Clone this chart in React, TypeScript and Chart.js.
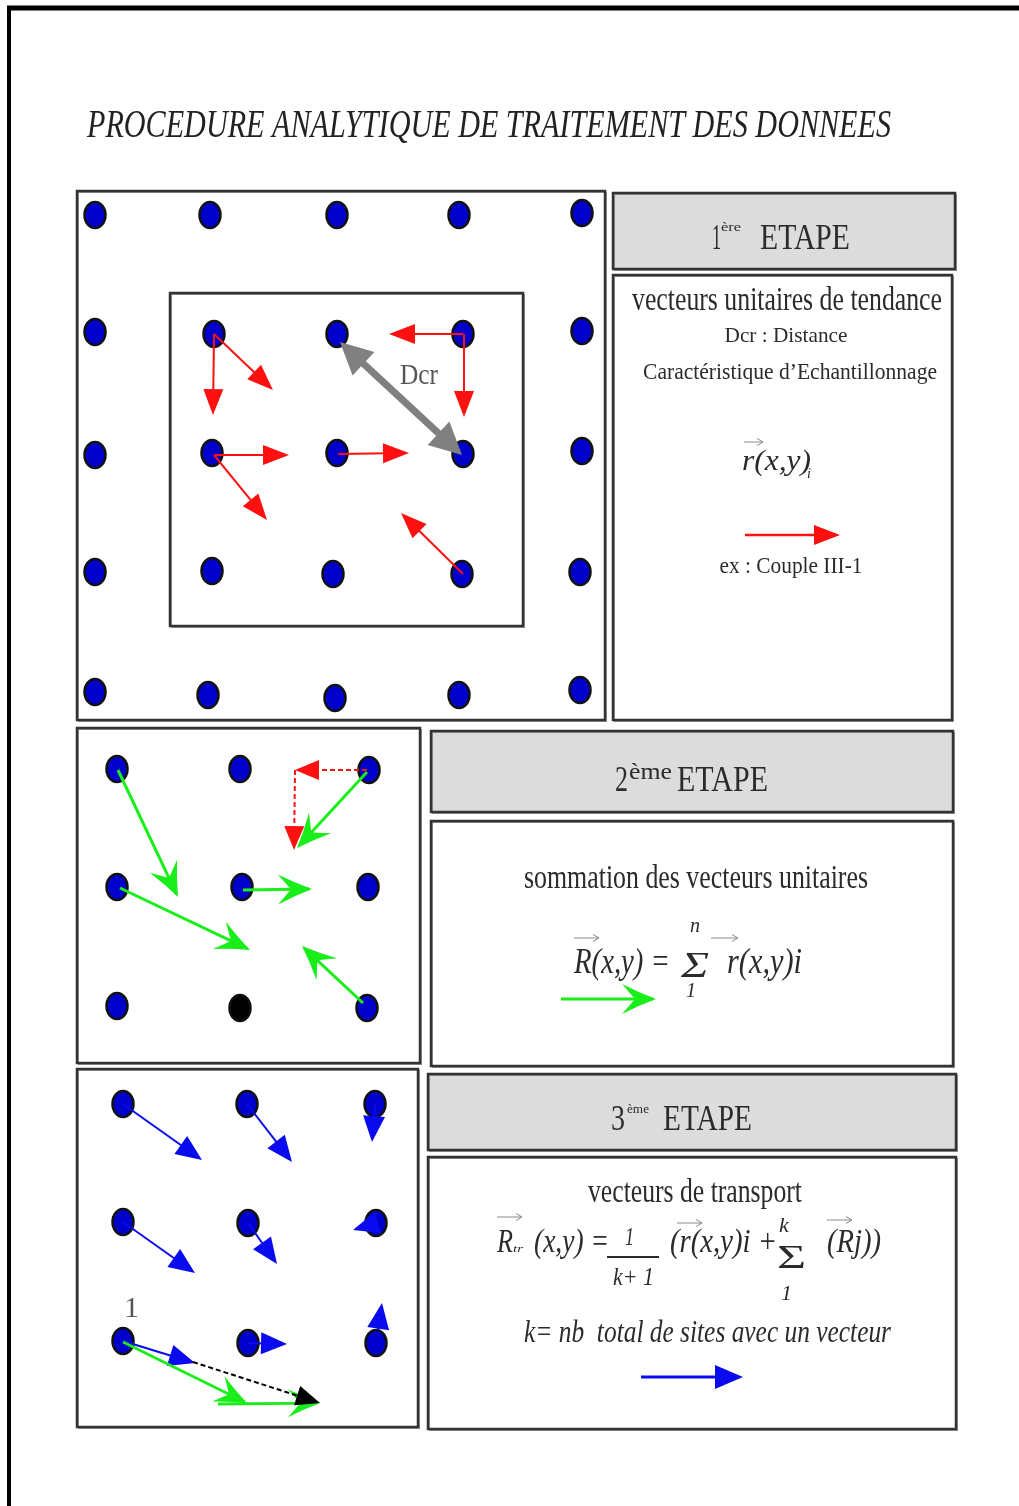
import React, { useEffect, useRef } from "react";
import { Chart, registerables } from "chart.js";

Chart.register(...registerables);

// ---- Data (diagram coordinates, value space 0..1019 x 0..1506) ----
const panel1Dots = [
  [95, 215], [210, 215], [337, 215], [459, 215], [582, 213],
  [95, 332], [214, 334], [337, 334], [463, 334], [582, 331],
  [95, 455], [212, 453], [337, 453], [463, 454], [582, 451],
  [95, 572], [212, 571], [333, 574], [462, 574], [580, 572],
  [95, 692], [208, 695], [335, 698], [459, 695], [580, 690],
];
const panel2Dots = [
  [117, 769], [240, 769], [369, 770],
  [117, 887], [242, 887], [368, 887],
  [117, 1006], [367, 1008],
];
const panel2BlackDots = [[240, 1008]];
const panel3Dots = [
  [123, 1104], [247, 1104], [375, 1104],
  [123, 1222], [248, 1223], [376, 1223],
  [123, 1341], [248, 1343], [376, 1343],
];

const redVectors = [
  [214, 334, 213, 415], [214, 334, 273, 390], [463, 334, 389, 334], [464, 334, 464, 417],
  [214, 455, 289, 455], [214, 455, 267, 520], [338, 454, 409, 453], [463, 574, 401, 513],
];
const dcrVector = [[340, 342, 462, 455]];
const redLegend = [[745, 535, 840, 535]];

const greenVectors2 = [
  [118, 770, 178, 897], [120, 888, 250, 950], [243, 890, 312, 889],
  [363, 1003, 302, 946], [367, 772, 297, 848],
];
const redDashed2 = [[367, 770, 295, 770], [295, 770, 294, 850]];
const greenLegend = [[561, 999, 656, 999]];

const blueVectors3 = [
  [123, 1104, 202, 1160], [247, 1104, 292, 1162], [375, 1104, 372, 1142],
  [123, 1222, 195, 1273], [248, 1223, 277, 1264], [376, 1223, 353, 1230],
  [123, 1341, 195, 1363], [248, 1343, 287, 1344], [378, 1330, 382, 1303],
];
const greenVectors3 = [[123, 1342, 247, 1403], [218, 1404, 320, 1403]];
const blackDashed3 = [[193, 1362, 320, 1403]];
const blueLegend = [[641, 1377, 743, 1377]];

const SERIF = '"Liberation Serif", "Times New Roman", serif';

function makeDot(fill: string) {
  const c = document.createElement("canvas");
  c.width = 26;
  c.height = 30;
  const g = c.getContext("2d")!;
  g.beginPath();
  g.ellipse(13, 15, 10.5, 13, 0, 0, Math.PI * 2);
  g.fillStyle = fill;
  g.fill();
  g.lineWidth = 2.5;
  g.strokeStyle = "#111";
  g.stroke();
  return c;
}

export default function App() {
  const ref = useRef<HTMLCanvasElement>(null);
  useEffect(() => {
    const canvas = ref.current!;
    const blueDot = makeDot("#0000cc");
    const blackDot = makeDot("#000000");

    const diagram = {
      id: "diagram",
      beforeDatasetsDraw(chart: any) {
        const ctx = chart.ctx as CanvasRenderingContext2D;
        const X = (v: number) => chart.scales.x.getPixelForValue(v);
        const Y = (v: number) => chart.scales.y.getPixelForValue(v);
        ctx.save();
        ctx.fillStyle = "#fff";
        ctx.fillRect(0, 0, chart.width, chart.height);
        // outer frame
        ctx.strokeStyle = "#000";
        ctx.lineWidth = 5;
        ctx.beginPath();
        ctx.moveTo(X(7), Y(8));
        ctx.lineTo(X(1019), Y(8));
        ctx.stroke();
        ctx.lineWidth = 4;
        ctx.beginPath();
        ctx.moveTo(X(9), Y(6));
        ctx.lineTo(X(9), Y(1506));
        ctx.stroke();
        const boxes: [number, number, number, number, boolean][] = [
          [77, 191, 605, 720, false], [170, 293, 523, 626, false],
          [613, 193, 955, 269, true], [613, 275, 952, 720, false],
          [77, 728, 420, 1063, false], [431, 731, 953, 812, true], [431, 821, 953, 1066, false],
          [77, 1069, 418, 1427, false], [428, 1074, 956, 1150, true], [428, 1157, 956, 1429, false],
        ];
        for (const [x1, y1, x2, y2, fill] of boxes) {
          if (fill) {
            ctx.fillStyle = "#dcdcdc";
            ctx.fillRect(X(x1), Y(y1), X(x2) - X(x1), Y(y2) - Y(y1));
          }
          ctx.strokeStyle = "#999";
          ctx.lineWidth = 1;
          ctx.strokeRect(X(x1) + 1.5, Y(y1) + 1.5, X(x2) - X(x1), Y(y2) - Y(y1));
          ctx.strokeStyle = "#333";
          ctx.lineWidth = 2.5;
          ctx.strokeRect(X(x1), Y(y1), X(x2) - X(x1), Y(y2) - Y(y1));
        }
        ctx.restore();
      },
      afterDatasetsDraw(chart: any) {
        const ctx = chart.ctx as CanvasRenderingContext2D;
        const X = (v: number) => chart.scales.x.getPixelForValue(v);
        const Y = (v: number) => chart.scales.y.getPixelForValue(v);

        const head = (x1: number, y1: number, x2: number, y2: number, len: number, hw: number, color: string, notch = 0) => {
          const dx = x2 - x1, dy = y2 - y1;
          const L = Math.hypot(dx, dy) || 1;
          const ux = dx / L, uy = dy / L, nx = -uy, ny = ux;
          ctx.fillStyle = color;
          ctx.beginPath();
          ctx.moveTo(x2, y2);
          if (notch > 0) {
            // concave "stealth" head with curved barbs
            const wlx = x2 - ux * len + nx * hw, wly = y2 - uy * len + ny * hw;
            const wrx = x2 - ux * len - nx * hw, wry = y2 - uy * len - ny * hw;
            ctx.quadraticCurveTo(x2 - ux * len * 0.5 + nx * hw * 0.42, y2 - uy * len * 0.5 + ny * hw * 0.42, wlx, wly);
            ctx.lineTo(x2 - ux * notch, y2 - uy * notch);
            ctx.lineTo(wrx, wry);
            ctx.quadraticCurveTo(x2 - ux * len * 0.5 - nx * hw * 0.42, y2 - uy * len * 0.5 - ny * hw * 0.42, x2, y2);
          } else {
            ctx.lineTo(x2 - ux * len + nx * hw, y2 - uy * len + ny * hw);
            ctx.lineTo(x2 - ux * len - nx * hw, y2 - uy * len - ny * hw);
          }
          ctx.closePath();
          ctx.fill();
        };
        const arrow = (v: number[], color: string, lw: number, len: number, hw: number, opts: { dash?: number[]; notch?: number; both?: boolean } = {}) => {
          const x1 = X(v[0]), y1 = Y(v[1]), x2 = X(v[2]), y2 = Y(v[3]);
          const L = Math.hypot(x2 - x1, y2 - y1) || 1;
          const ux = (x2 - x1) / L, uy = (y2 - y1) / L;
          const back = opts.notch ? 3 : len * 0.8;
          ctx.save();
          ctx.strokeStyle = color;
          ctx.lineWidth = lw;
          ctx.setLineDash(opts.dash || []);
          ctx.beginPath();
          ctx.moveTo(opts.both ? x1 + ux * back : x1, opts.both ? y1 + uy * back : y1);
          ctx.lineTo(x2 - ux * back, y2 - uy * back);
          ctx.stroke();
          ctx.setLineDash([]);
          head(x1, y1, x2, y2, len, hw, color, opts.notch || 0);
          if (opts.both) head(x2, y2, x1, y1, len, hw, color, opts.notch || 0);
          ctx.restore();
        };
        const overArrow = (xa: number, xb: number, y: number) => {
          ctx.save();
          ctx.strokeStyle = "#8a8a8a";
          ctx.lineWidth = 1;
          ctx.beginPath();
          ctx.moveTo(X(xa), Y(y));
          ctx.lineTo(X(xb), Y(y));
          ctx.moveTo(X(xb) - 6, Y(y) - 3.5);
          ctx.lineTo(X(xb), Y(y));
          ctx.lineTo(X(xb) - 6, Y(y) + 3.5);
          ctx.stroke();
          ctx.restore();
        };
        const T = (s: string, x: number, y: number, size: number, o: { it?: boolean; al?: CanvasTextAlign; w?: number; c?: string } = {}) => {
          ctx.save();
          ctx.font = `${o.it ? "italic " : ""}${size}px ${SERIF}`;
          ctx.fillStyle = o.c || "#2b2b2b";
          ctx.textBaseline = "alphabetic";
          const m = ctx.measureText(s).width;
          const sx = o.w ? o.w / m : 1;
          ctx.translate(X(x), Y(y));
          ctx.scale(sx, 1);
          ctx.textAlign = o.al || "left";
          ctx.fillText(s, 0, 0);
          ctx.restore();
        };

        // ---- vectors ----
        redVectors.forEach((v) => arrow(v, "#ff1010", 2, 26, 10));
        dcrVector.forEach((v) => arrow(v, "#808080", 7, 32, 16, { both: true }));
        redLegend.forEach((v) => arrow(v, "#ff1010", 2.5, 26, 10));
        redDashed2.forEach((v) => arrow(v, "#ff1010", 2, 24, 10, { dash: [5, 3] }));
        greenVectors2.forEach((v) => arrow(v, "#1aee1a", 3, 34, 15, { notch: 21 }));
        greenLegend.forEach((v) => arrow(v, "#1aee1a", 3, 34, 15, { notch: 21 }));
        blueVectors3.forEach((v) => arrow(v, "#0a0aee", 2, 26, 11));
        greenVectors3.forEach((v) => arrow(v, "#1aee1a", 2.8, 32, 14, { notch: 20 }));
        blackDashed3.forEach((v) => arrow(v, "#000", 2, 24, 10, { dash: [5, 3] }));
        blueLegend.forEach((v) => arrow(v, "#0a0aee", 3, 28, 12));

        // ---- texts ----
        T("PROCEDURE ANALYTIQUE DE TRAITEMENT DES DONNEES", 87, 137, 40, { it: true, w: 804, c: "#222" });

        T("Dcr", 400, 384, 30, { w: 38, c: "#555" });
        T("1", 124, 1317, 30, { c: "#555" });

        T("1", 712, 249, 36, { w: 9 });
        T("ère", 721, 231, 13, { w: 20 });
        T("ETAPE", 760, 249, 36, { w: 90 });
        T("vecteurs unitaires de tendance", 787, 310, 34, { al: "center", w: 310 });
        T("Dcr : Distance", 786, 342, 22, { al: "center", w: 123 });
        T("Caractéristique d\u2019Echantillonnage", 790, 379, 24, { al: "center", w: 294 });
        T("r(x,y)", 742, 470, 30, { it: true, w: 69 });
        T("i", 807, 478, 14, { it: true });
        overArrow(744, 763, 442);
        T("ex : Couple III-1", 791, 573, 24, { al: "center", w: 143 });

        T("2", 615, 791, 36, { w: 13 });
        T("ème", 629, 779, 24, { w: 43 });
        T("ETAPE", 677, 791, 36, { w: 91 });
        T("sommation des vecteurs unitaires", 696, 888, 34, { al: "center", w: 344 });
        T("R(x,y) =", 574, 973, 36, { it: true, w: 96 });
        T("Σ", 681, 977, 36, { it: true, w: 28 });
        T("n", 690, 932, 20, { it: true });
        T("1", 686, 997, 20, { it: true });
        T("r(x,y)i", 727, 973, 36, { it: true, w: 75 });
        overArrow(574, 599, 938);
        overArrow(711, 738, 938);

        T("3", 611, 1130, 36, { w: 14 });
        T("ème", 627, 1113, 13, { w: 22 });
        T("ETAPE", 663, 1130, 36, { w: 89 });
        T("vecteurs de transport", 695, 1202, 34, { al: "center", w: 214 });
        T("R", 497, 1252, 34, { it: true, w: 16 });
        T("tr", 513, 1252, 11, { it: true, w: 10 });
        T("(x,y) =", 534, 1252, 34, { it: true, w: 75 });
        T("1", 625, 1245, 26, { it: true, w: 9 });
        ctx.save();
        ctx.strokeStyle = "#2b2b2b";
        ctx.lineWidth = 2;
        ctx.beginPath();
        ctx.moveTo(X(607), Y(1257));
        ctx.lineTo(X(659), Y(1257));
        ctx.stroke();
        ctx.restore();
        T("k+ 1", 613, 1285, 26, { it: true, w: 41 });
        T("(r(x,y)i +", 670, 1252, 34, { it: true, w: 107 });
        T("k", 779, 1232, 22, { it: true });
        T("Σ", 777, 1268, 34, { w: 29 });
        T("1", 781, 1300, 22, { it: true });
        T("(Rj))", 827, 1252, 34, { it: true, w: 54 });
        overArrow(497, 522, 1217);
        overArrow(677, 702, 1223);
        overArrow(827, 852, 1220);
        T("k= nb  total de sites avec un vecteur", 524, 1342, 32, { it: true, w: 367 });
      },
    };

    const pts = (a: number[][]) => a.map(([x, y]) => ({ x, y }));
    const chart = new Chart(canvas, {
      type: "scatter",
      data: {
        datasets: [
          { data: pts(panel1Dots), pointStyle: blueDot as any, pointRadius: 12, showLine: false },
          { data: pts(panel2Dots), pointStyle: blueDot as any, pointRadius: 12, showLine: false },
          { data: pts(panel2BlackDots), pointStyle: blackDot as any, pointRadius: 12, showLine: false },
          { data: pts(panel3Dots), pointStyle: blueDot as any, pointRadius: 12, showLine: false },
        ],
      },
      options: {
        responsive: false,
        animation: false,
        events: [],
        layout: { padding: 0, autoPadding: false },
        plugins: { legend: { display: false }, tooltip: { enabled: false }, title: { display: false } },
        scales: {
          x: { type: "linear", min: 0, max: 1019, display: false },
          y: { type: "linear", min: 0, max: 1506, reverse: true, display: false },
        },
      },
      plugins: [diagram],
    });
    return () => chart.destroy();
  }, []);

  return (
    <div style={{ position: "absolute", left: 0, top: 0, width: 1019, height: 1506, overflow: "hidden", background: "#fff" }}>
      <canvas ref={ref} width={1019} height={1506} style={{ display: "block", width: 1019, height: 1506 }} />
    </div>
  );
}
